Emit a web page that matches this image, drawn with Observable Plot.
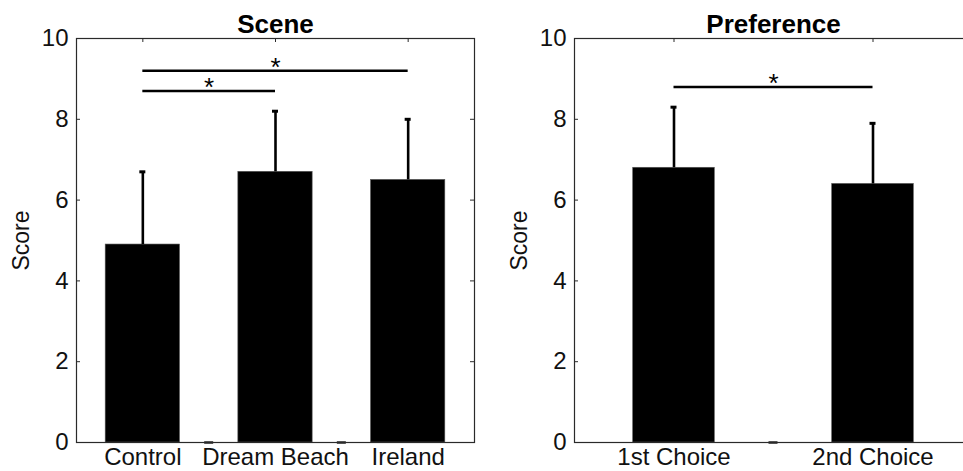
<!DOCTYPE html>
<html>
<head>
<meta charset="utf-8">
<script src="https://cdn.jsdelivr.net/npm/d3@7"></script>
<script src="https://cdn.jsdelivr.net/npm/@observablehq/plot@0.6"></script>
<style>
  html, body { margin: 0; padding: 0; background: #fff; }
  #wrap { position: relative; width: 963px; height: 471px; overflow: hidden; background: #fff; }
  #wrap svg { position: absolute; top: 0; background: transparent; }
</style>
</head>
<body>
<div id="wrap"></div>
<script>
// ---- Data ----
const sceneCategories = ["Control", "Dream Beach", "Ireland"];
const sceneMeans = [4.9, 6.7, 6.5];
const sceneErrors = [1.8, 1.5, 1.5];
const sceneSigFrom = ["Control", "Control"];
const sceneSigTo = ["Dream Beach", "Ireland"];
const sceneSigLevel = [8.7, 9.2];

const prefCategories = ["1st Choice", "2nd Choice"];
const prefMeans = [6.8, 6.4];
const prefErrors = [1.5, 1.5];
const prefSigFrom = ["1st Choice"];
const prefSigTo = ["2nd Choice"];
const prefSigLevel = [8.8];

const yTicks = [0, 2, 4, 6, 8, 10];
const yDomain = [0, 10];

const FONT = "'Liberation Sans', Arial, Helvetica, sans-serif";

function panel({title, categories, means, errors, sigFrom, sigTo, sigLevel,
                width, marginLeft, marginRight, barWidth, left}) {
  const pos = categories.map((c, i) => i + 1);
  const rows = categories.map((c, i) => ({cat: c, pos: pos[i], mean: means[i], err: errors[i]}));
  const sig = sigFrom.map((f, i) => ({
    a: categories.indexOf(f) + 1,
    b: categories.indexOf(sigTo[i]) + 1,
    level: sigLevel[i]
  }));
  const gaps = pos.slice(0, -1).map(p => p + 0.5);
  const height = 471, marginTop = 38, marginBottom = 29;
  const innerW = width - marginLeft - marginRight;
  const innerH = height - marginTop - marginBottom;
  const tickLen = 4;
  const unit = innerW / categories.length;
  const capHalf = 3 / unit;   // cap half-width in data units
  const dashHalf = 4.5 / unit;
  const ink = "#111";
  const frameInk = "#2a2a2a";

  const svg = Plot.plot({
    width, height, marginLeft, marginRight, marginTop, marginBottom,
    style: {fontFamily: FONT, fontSize: "24px", color: ink, background: "transparent"},
    x: {domain: [0.5, categories.length + 0.5], ticks: pos, tickFormat: p => categories[p - 1],
        tickSize: 0, tickPadding: 5, label: null},
    y: {domain: yDomain, ticks: yTicks, tickSize: 0, tickPadding: 8, label: null},
    marks: [
      Plot.rectY(rows, {x1: d => d.pos - barWidth / 2, x2: d => d.pos + barWidth / 2, y1: 0, y2: "mean",
                        fill: "#000", stroke: "#555", strokeWidth: 0.6}),
      Plot.ruleX(rows, {x: "pos", y1: "mean", y2: d => d.mean + d.err, stroke: "#000", strokeWidth: 2.6}),
      Plot.ruleY(rows, {y: d => d.mean + d.err, x1: d => d.pos - capHalf, x2: d => d.pos + capHalf,
                        stroke: "#000", strokeWidth: 3}),
      Plot.ruleY(gaps, {y: 0, x1: d => d - dashHalf, x2: d => d + dashHalf, stroke: "#222", strokeWidth: 2.5}),
      // significance bars
      Plot.ruleY(sig, {y: "level", x1: "a", x2: "b", stroke: "#000", strokeWidth: 2.6}),
      Plot.text(sig, {x: d => (d.a + d.b) / 2, y: "level", text: () => "*", fontSize: 26,
                      lineAnchor: "bottom", textAnchor: "middle", dy: 5, fill: "#000"}),
      // MATLAB-style box with inward ticks
      Plot.frame({stroke: frameInk, strokeWidth: 1.2}),
      Plot.tickY(yTicks, {y: d => d, insetRight: innerW - tickLen, stroke: frameInk}),
      Plot.tickY(yTicks, {y: d => d, insetLeft: innerW - tickLen, stroke: frameInk}),
      Plot.tickX(pos, {x: d => d, insetBottom: innerH - tickLen, stroke: frameInk}),
      // title and y label
      Plot.text([title], {frameAnchor: "top", lineAnchor: "bottom", textAnchor: "middle", dy: -6,
                          fontSize: 26, fontWeight: "bold", fill: "#000"}),
      Plot.text(["Score"], {frameAnchor: "left", rotate: -90, dx: -55, textAnchor: "middle",
                            lineAnchor: "middle", fontSize: 23, fill: ink})
    ]
  });
  svg.style.left = left + "px";
  return svg;
}

const wrap = document.getElementById("wrap");
wrap.appendChild(panel({
  title: "Scene", categories: sceneCategories, means: sceneMeans, errors: sceneErrors,
  sigFrom: sceneSigFrom, sigTo: sceneSigTo, sigLevel: sceneSigLevel,
  width: 480, marginLeft: 76, marginRight: 6, barWidth: 0.56, left: 0
}));
wrap.appendChild(panel({
  title: "Preference", categories: prefCategories, means: prefMeans, errors: prefErrors,
  sigFrom: prefSigFrom, sigTo: prefSigTo, sigLevel: prefSigLevel,
  width: 494, marginLeft: 94, marginRight: 2, barWidth: 0.41, left: 480
}));
</script>
</body>
</html>
